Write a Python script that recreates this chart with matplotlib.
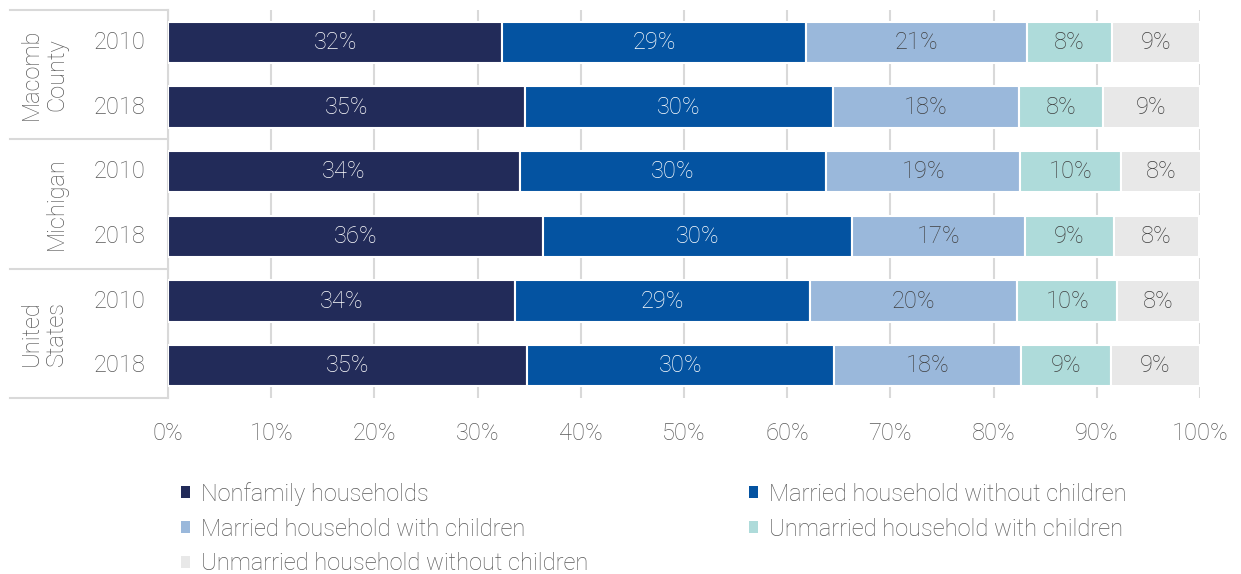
import matplotlib
matplotlib.use("Agg")
import matplotlib.pyplot as plt
from matplotlib.patches import Patch
from matplotlib.transforms import blended_transform_factory
import numpy as np

plt.rcParams['font.family'] = ['Roboto', 'DejaVu Sans']
plt.rcParams['font.weight'] = 'light'

groups = ["Macomb\nCounty", "Michigan", "United\nStates"]
years = ["2010", "2018", "2010", "2018", "2010", "2018"]
series = ["Nonfamily households", "Married household without children",
          "Married household with children", "Unmarried household with children",
          "Unmarried household without children"]
nonfamily = [32.4, 34.6, 34.1, 36.3, 33.6, 34.8]
married_no_kids = [29.4, 29.8, 29.7, 30.0, 28.6, 29.7]
married_kids = [21.4, 18.1, 18.8, 16.7, 20.1, 18.2]
unmarried_kids = [8.3, 8.1, 9.7, 8.7, 9.7, 8.7]
unmarried_no_kids = [8.5, 9.4, 7.8, 8.2, 8.0, 8.6]
labels = [["32%", "35%", "34%", "36%", "34%", "35%"],
          ["29%", "30%", "30%", "30%", "29%", "30%"],
          ["21%", "18%", "19%", "17%", "20%", "18%"],
          ["8%", "8%", "10%", "9%", "10%", "9%"],
          ["9%", "9%", "8%", "8%", "8%", "9%"]]
xticks = [0, 10, 20, 30, 40, 50, 60, 70, 80, 90, 100]

colors = ["#222B59", "#0453A1", "#9AB8DB", "#AEDBDA", "#E8E8E8"]
text_colors = ["white", "white", "#404040", "#404040", "#404040"]
grey = "#595959"
FS = 17

fig = plt.figure(figsize=(12.41, 5.74), dpi=100)
ax = fig.add_axes([168/1241, 1-398/574, 1032/1241, 388/574])

data = [nonfamily, married_no_kids, married_kids, unmarried_kids, unmarried_no_kids]
y = np.arange(len(years))
left = np.zeros(len(years))
for vals, col, tc, labs, name in zip(data, colors, text_colors, labels, series):
    vals = np.array(vals)
    ax.barh(y, vals, left=left, height=0.64, color=col, edgecolor="white",
            linewidth=1.5, label=name, zorder=3)
    for yi, (l, v, t) in enumerate(zip(left, vals, labs)):
        ax.text(l + v/2, yi, t, ha="center", va="center", color=tc,
                fontsize=FS, zorder=4)
    left += vals

ax.set_xlim(0, 100)
ax.set_ylim(5.5, -0.5)
ax.set_xticks(xticks)
ax.set_xticklabels([f"{v}%" for v in xticks], fontsize=FS, color=grey)
ax.tick_params(axis="x", length=0, pad=17)
ax.set_yticks([])
for s in ["top", "right", "bottom"]:
    ax.spines[s].set_visible(False)
ax.spines["left"].set_color("#D9D9D9")
ax.spines["left"].set_linewidth(1.5)
ax.grid(axis="x", color="#D9D9D9", linewidth=1.5, zorder=0)
ax.set_axisbelow(True)

# year labels
trans_y = blended_transform_factory(fig.transFigure, ax.transData)
for yi, yr in enumerate(years):
    ax.text(120/1241, yi, yr, transform=trans_y, ha="center", va="center",
            fontsize=FS, color=grey)
# group separators and labels
for b in [-0.5, 1.5, 3.5, 5.5]:
    ax.plot([10/1241, 168/1241], [b, b], transform=trans_y, color="#D9D9D9",
            linewidth=1.5, clip_on=False)
for gi, g in enumerate(groups):
    ax.text(68/1241, 2*gi + 0.5, g, transform=trans_y, rotation=90,
            ha="right", va="center", multialignment="center",
            fontsize=FS, color=grey, linespacing=1.1)

handles = [Patch(facecolor=c, edgecolor="none") for c in colors]
order = [0, 2, 4, 1, 3]
leg = fig.legend([handles[i] for i in order], [series[i] for i in order],
                 loc="upper left", bbox_to_anchor=(181/1241, 1-482/574),
                 ncol=2, frameon=False, fontsize=FS, handlelength=0.4,
                 handleheight=0.4, handletextpad=0.45, columnspacing=6.8,
                 labelspacing=0.5, borderpad=0, borderaxespad=0)
for t in leg.get_texts():
    t.set_color(grey)

fig.savefig("out.png", dpi=100)
